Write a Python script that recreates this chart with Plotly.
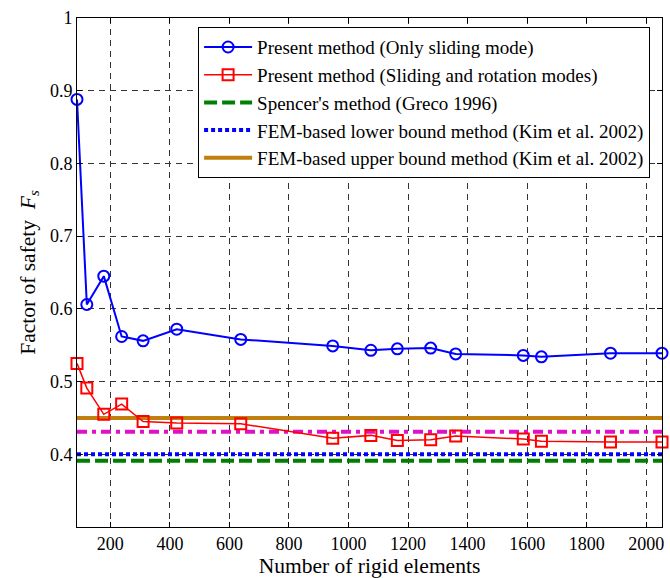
import plotly.graph_objects as go

# ---- data ----
n_elements = [88, 121, 178, 238, 310, 423, 638, 947, 1075, 1164, 1276, 1360, 1587, 1648, 1880, 2053]
fs_sliding = [0.888, 0.606, 0.645, 0.562, 0.556, 0.572, 0.558, 0.549, 0.543, 0.545, 0.546, 0.538, 0.536, 0.534, 0.539, 0.539]
fs_slide_rot = [0.525, 0.491, 0.455, 0.469, 0.445, 0.443, 0.442, 0.422, 0.426, 0.419, 0.420, 0.425, 0.421, 0.418, 0.417, 0.417]
fs_spencer = 0.391
fs_fem_lower = 0.400
fs_fem_upper = 0.450
fs_other = 0.431

x_ticks = [200, 400, 600, 800, 1000, 1200, 1400, 1600, 1800, 2000]
y_ticks = [0.4, 0.5, 0.6, 0.7, 0.8, 0.9, 1.0]
y_tick_text = ["0.4", "0.5", "0.6", "0.7", "0.8", "0.9", "1"]

FONT = "Liberation Serif"
xmin, xmax = min(n_elements), max(n_elements)

fig = go.Figure()

# reference lines first (drawn underneath)
fig.add_trace(go.Scatter(
    x=[xmin, xmax], y=[fs_spencer, fs_spencer], mode="lines",
    name="Spencer's method (Greco 1996)", legendrank=3,
    line=dict(color="#008000", width=4, dash="13px,5px")))
fig.add_trace(go.Scatter(
    x=[xmin, xmax], y=[fs_fem_lower, fs_fem_lower], mode="lines",
    name="FEM-based lower bound method (Kim et al. 2002)", legendrank=4,
    line=dict(color="#0000ff", width=4, dash="4px,3px")))
fig.add_trace(go.Scatter(
    x=[xmin, xmax], y=[fs_fem_upper, fs_fem_upper], mode="lines",
    name="FEM-based upper bound method (Kim et al. 2002)", legendrank=5,
    line=dict(color="#c08010", width=4)))
fig.add_trace(go.Scatter(
    x=[xmin, xmax], y=[fs_other, fs_other], mode="lines",
    showlegend=False,
    line=dict(color="#e010c8", width=4, dash="10px,5px,4px,5px")))

fig.add_trace(go.Scatter(
    x=n_elements, y=fs_sliding, mode="lines+markers",
    name="Present method (Only sliding mode)", legendrank=1,
    line=dict(color="#0000ff", width=2),
    marker=dict(symbol="circle-open", size=11, color="#0000ff", line=dict(width=2)),
    cliponaxis=False))
fig.add_trace(go.Scatter(
    x=n_elements, y=fs_slide_rot, mode="lines+markers",
    name="Present method (Sliding and rotation modes)", legendrank=2,
    line=dict(color="#ff0000", width=1.5),
    marker=dict(symbol="square-open", size=11, color="#ff0000", line=dict(width=2)),
    cliponaxis=False))

axis_common = dict(
    showline=True, linecolor="black", linewidth=1, mirror="ticks",
    ticks="inside", ticklen=5, tickcolor="black",
    showgrid=True, gridcolor="#333333", gridwidth=1, griddash="6px,5px",
    zeroline=False,
    tickfont=dict(family=FONT, size=18, color="black"),
)

fig.update_xaxes(range=[xmin, xmax], tickvals=x_ticks,
                 title=dict(text="Number of rigid elements", font=dict(family=FONT, size=21.5, color="black"), standoff=3),
                 **axis_common)
fig.update_yaxes(range=[0.3, 1.0], tickvals=y_ticks, ticktext=y_tick_text,
                 title=dict(text="Factor of safety  <i>F</i><sub><i>s</i></sub>", font=dict(family=FONT, size=21.5, color="black"), standoff=8),
                 **axis_common)

fig.update_layout(
    width=670, height=578,
    margin=dict(l=77, r=6, t=18, b=48),
    paper_bgcolor="white", plot_bgcolor="white",
    legend=dict(
        x=0.207, y=0.982, xanchor="left", yanchor="top",
        traceorder="normal",
        bgcolor="white", bordercolor="black", borderwidth=1,
        font=dict(family=FONT, size=19, color="black"),
        itemwidth=48, tracegroupgap=0,
    ),
    showlegend=True,
)

fig.write_html("out.html")
